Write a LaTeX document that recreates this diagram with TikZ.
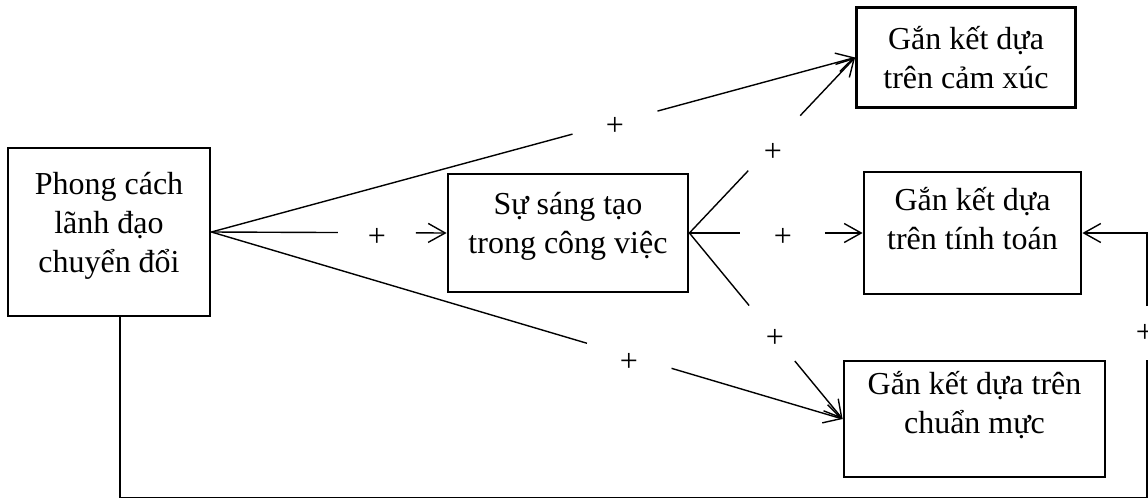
\documentclass[tikz,border=0pt]{standalone}
\usepackage{fontspec}
\setmainfont{Liberation Serif}
\usetikzlibrary{arrows.meta,calc}
\begin{document}
\begin{tikzpicture}[x=0.5pt,y=-0.5pt,
  box/.style={draw,line width=1.4pt,inner sep=0pt},
  lbl/.style={align=center,font=\fontsize{16}{19.5}\selectfont,inner sep=0pt},
  plus/.style={font=\fontsize{16}{19.5}\selectfont,inner sep=0pt},
  link/.style={line width=0.7pt},
  >={Straight Barb[length=8.5pt,width=9.5pt]}]
\useasboundingbox (0,0) rectangle (1148,499);

% boxes
\node[box,minimum width=101pt,minimum height=84pt]   (A)  at (109,232)   {};
\node[box,minimum width=120pt,minimum height=59pt]   (B)  at (568,233)   {};
\node[box,minimum width=109.5pt,minimum height=50pt] (C1) at (966,57.5)  {};
\node[box,minimum width=108.5pt,minimum height=61pt] (C2) at (972.5,233) {};
\node[box,minimum width=130.5pt,minimum height=58pt] (C3) at (974.5,419) {};

% box texts
\node[lbl] (A-t)  at (109,225.5) {Phong cách\\lãnh đạo\\chuyển đổi};
\node[lbl] (B-t)  at (568,226)   {Sự sáng tạo\\trong công việc};
\node[lbl] (C1-t) at (966,57.5)  {Gắn kết dựa\\trên cảm xúc};
\node[lbl] (C2-t) at (972.5,219) {Gắn kết dựa\\trên tính toán};
\node[lbl] (C3-t) at (974.5,405) {Gắn kết dựa trên\\chuẩn mực};

% gap points on each link, where the sign sits
\path (A.east) -- (C1.west) coordinate[pos=0.561] (a1s) coordinate[pos=0.693] (a1e);
\path (A.east) -- (B.west)  coordinate[pos=0.538] (abs) coordinate[pos=0.869] (abe);
\path (A.east) -- (C3.west) coordinate[pos=0.595] (a3s) coordinate[pos=0.729] (a3e);
\path (B.east) -- (C1.west) coordinate[pos=0.355] (b1s) coordinate[pos=0.669] (b1e);
\path (B.east) -- (C2.west) coordinate[pos=0.293] (b2s) coordinate[pos=0.782] (b2e);
\path (B.east) -- (C3.west) coordinate[pos=0.390] (b3s) coordinate[pos=0.688] (b3e);

% links
\draw[link] (A.east) -- (a1s);  \draw[link,->] (a1e) -- (C1.west);
\draw[link] (A.east) -- (abs);  \draw[link,->] (abe) -- (B.west);
\draw[link] (A.east) -- (a3s);  \draw[link,->] (a3e) -- (C3.west);
\draw[link] (B.east) -- (b1s);  \draw[link,->] (b1e) -- (C1.west);
\draw[link] (B.east) -- (b2s);  \draw[link,->] (b2e) -- (C2.west);
\draw[link] (B.east) -- (b3s);  \draw[link,->] (b3e) -- (C3.west);

% feedback path round the bottom and right side
\coordinate (fbL) at (120,497.5);
\coordinate (fbR) at (1147,497.5);
\coordinate (fgLo) at (1147,360);
\coordinate (fgHi) at (1147,306);
\draw[link] (A.south -| fbL) -- (fbL) -- (fbR) -- (fgLo);
\draw[link,->] (fgHi) -- (fgHi |- C2.east) -- (C2.east);

% signs
\node[plus] (p1) at (615,126)  {+};
\node[plus] (p2) at (377,237)  {+};
\node[plus] (p3) at (629,362)  {+};
\node[plus] (p4) at (773,152)  {+};
\node[plus] (p5) at (783,237)  {+};
\node[plus] (p6) at (775,338)  {+};
\node[plus] (p7) at (1145,333) {+};
\end{tikzpicture}
\end{document}
